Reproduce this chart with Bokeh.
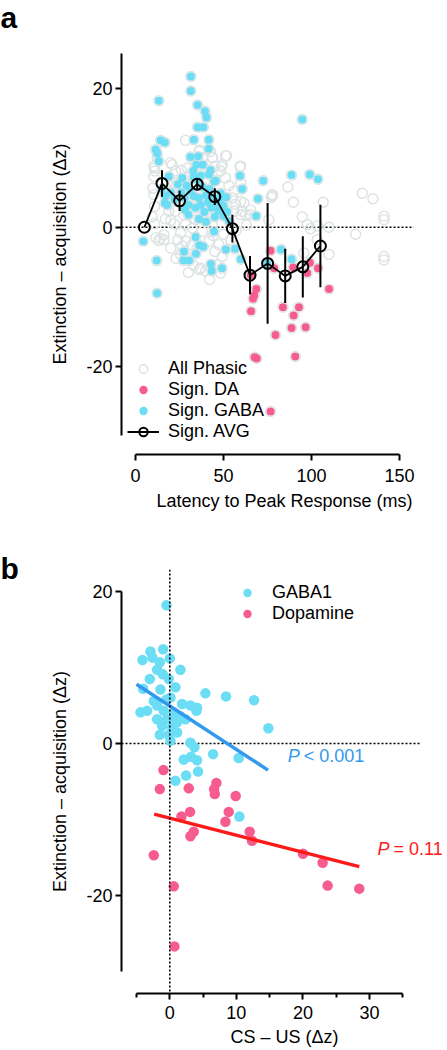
from bokeh.plotting import figure
from bokeh.layouts import column, row
from bokeh.models import Span, Label, Legend, LegendItem, FixedTicker, Range1d
from bokeh.embed import file_html
from bokeh.resources import INLINE

FONT = "Liberation Sans"
CYAN = "#6BDDF5"
PINK = "#F75C8F"
GREY = "#DCE2E2"
BLUE = "#3399EE"
RED = "#FF1A1A"

# ---------------- Panel a data ----------------
# Significant GABA neurons: latency (ms), extinction - acquisition (dz)
gaba_a_x = [31.4, 31.4, 13.2, 35.2, 39.4, 40.3, 35.2, 38.5, 14.2, 16.6, 33.1, 41.6, 41.5, 11.4, 12.3, 13.2,
            31.2, 35.6, 34.5, 38.2, 42.6, 41.6, 18.9, 26.5, 32.8, 45.5, 59.3, 60.6, 72.5, 88.6, 98.9, 103.6,
            94.7, 69.5, 68.5, 4.4, 12.2, 12.0, 27.5, 27.1, 30.5, 34.3, 36.2, 38.5, 42.8, 43.2, 49.1, 44.6,
            51.3, 56.5, 59.8, 82.6, 88.6, 74.8, 34.1, 16.6,
            15, 17, 18, 20, 22, 24, 26, 28, 29, 30, 31, 33, 34, 35, 36, 37, 38, 39, 40, 41, 42, 43, 44,
            46, 47, 48, 50, 52, 36, 40, 30, 45, 33, 37, 28, 53, 44.7, 48.3, 51.5, 49.9]
gaba_a_y = [21.7, 19.6, 18.2, 17.6, 16.7, 15.8, 14.4, 14.4, 12.5, 12.2, 12.6, 12.6, 11.3, 11.2, 10.6, 9.5,
            10.1, 10.2, 9.0, 9.0, 8.2, 7.6, 7.3, 7.1, 8.1, 6.7, 7.4, 5.5, 6.7, 7.5, 7.6, 6.9,
            15.5, 4.1, 1.6, -2.0, -9.5, -4.8, -3.5, -4.8, -4.8, -3.8, -2.6, -2.8, -5.3, -6.3, -5.9, -0.6,
            -3.2, -3.1, -4.6, -3.2, -4.6, -5.1, -1.4, 3.5,
            5.5, 4.5, 3.2, 5.0, 4.0, 6.2, 5.0, 4.2, 6.0, 3.2, 5.2, 4.5, 2.8, 6.8, 4.2, 3.2, 5.8, 2.2, 4.6,
            3.6, 5.5, 2.8, 4.2, 3.5, 2.4, 4.1, 3.1, 2.2, 1.2, 0.8, 1.8, 1.5, 7.2, 7.4, 2.5, 0.9, 6.6, 4.9,
            4.3, 1.6]

# Significant DA neurons
da_a_x = [65.5, 76.7, 78.7, 89.5, 99.0, 97.5, 103.6, 109.9, 68.6, 67.4, 66.7, 65.6, 83.7, 92.8, 89.8,
          88.6, 96.6, 79.5, 67.6, 68.8, 90.7, 76.7]
da_a_y = [-6.9, -3.4, -5.9, -5.8, -5.1, -6.6, -5.9, -8.9, -8.9, -9.8, -10.3, -12.1, -11.5, -11.5, -12.7,
          -14.5, -14.4, -15.5, -18.7, -18.9, -18.6, -26.5]

# Other phasic neurons (non-significant)
other_a_x = [86.5, 77.7, 89.6, 106.6, 128.8, 134.8, 94.7, 75.7, 97.5, 99.4, 103.3, 109.8, 125.0, 141.1, 141.1,
             141.1, 141.1, 95.6, 109.8, 103.2, 51.7, 48.7, 59.3, 61.5, 62.5, 65.0, 55.9, 55.9, 28.4, 36.4,
             43.8, 20.8, 10.8, 16.1, 14.2, 36.9, 48.3, 25.6, 13.2, 16.1, 56.8, 59.7, 28.4, 26.5, 32.2, 29.4,
             36.0, 39.8, 46.4, 49.2, 47.3, 41.7, 37.9, 32.2, 28.4, 25.6, 34.1, 39.8, 43.6, 27.4, 22.7, 18.9,
             47.3, 51.1, 54.9, 59.7, 65.3, 60.6, 77.1, 51.1, 43.6, 49.3, 59.7, 19.9, 12.3, 10.4, 11.0, 22.7,
             36.0, 37.9, 42.6, 29.4, 48.3, 51.1, 59.7, 77.7, 21.8, 10.4, 10.4, 9.8, 10.8, 10.8, 11.5, 9.5,
             20, 23, 30, 33, 42, 45, 22, 20, 17, 24, 35, 44, 50, 54, 57, 63, 31, 26, 45, 53, 18]
other_a_y = [5.8, 4.5, 3.6, 3.6, 4.9, 4.1, 1.5, 1.1, 0.4, -0.2, 0.2, 0.0, -1.0, 1.6, 1.1,
             -4.2, -4.7, -3.7, -3.9, -1.8, 10.3, 8.7, 8.7, 3.5, 1.8, 1.8, 2.3, 5.2, 12.5, 11.1,
             10.0, 9.0, 8.5, -1.1, -1.6, -5.9, -6.6, -3.9, -1.9, -1.8, 3.3, 1.8, -2.0, -2.7, -2.5, -4.4,
             -6.1, -6.3, -5.4, -4.2, -2.5, -2.0, -0.6, -0.1, 0.4, -0.8, 1.1, 0.9, 0.4, 1.8, 2.3, 2.3,
             2.3, 1.8, 4.2, 3.7, 2.5, 2.3, 4.3, 10.3, 10.0, 9.0, 8.8, 9.3, 10.0, 8.8, 8.1, 8.1,
             10.9, 10.0, 10.9, 8.5, 8.1, 7.1, 6.4, 4.7, 6.4, 7.3, 4.7, 5.6, 3.0, 0.5, -1.5, 1.5,
             -3.0, -4.5, -6.5, -5.5, -7.5, -3.5, 0.5, 1.0, 1.2, -1.8, -3.0, -1.2, -1.0, -1.8, -0.5, 0.3,
             7.5, 8.2, 8.8, 6.0, 6.5]

# Binned average of significant neurons (mean +/- s.e.m.)
avg_x = [5, 15, 25, 35, 45, 55, 65, 75, 85, 95, 105]
avg_y = [0.0, 6.3, 3.8, 6.2, 4.4, -0.2, -6.9, -5.2, -7.0, -5.7, -2.7]
avg_err = [0.0, 1.9, 1.45, 0.9, 1.2, 2.0, 2.75, 8.7, 3.9, 4.4, 5.95]

# ---------------- Panel b data ----------------
gaba_b_x = [-0.5, -1.0, -2.9, -4.1, 0.0, -1.5, -2.6, 1.6, -1.9, -1.05, -3.0, -0.15, 0.85, -1.4, -4.0, 5.35,
            8.45, 12.65, 0.1, -2.4, 1.85, 3.1, 4.1, 4.0, -4.4, -3.4, -1.9, -0.9, 0.6, -0.4, -1.9, 2.35,
            1.1, -1.15, 0.35, 14.8, 1.1, -1.5, -0.15, 0.1, 3.1, 3.7, 6.5, 10.35, 2.1, 3.2, 4.1, 2.45,
            4.25, 0.85, 10.45, -0.5, 0.6, 1.6]
gaba_b_y = [18.2, 12.4, 12.1, 11.0, 11.2, 10.7, 11.3, 9.7, 9.7, 9.1, 8.5, 8.5, 7.4, 7.1, 7.2, 6.6,
            6.2, 5.7, 6.05, 5.6, 5.2, 5.0, 4.7, 4.3, 4.1, 4.3, 5.0, 4.3, 4.1, 3.2, 3.2, 3.2,
            2.8, 2.3, 2.1, 2.0, 1.45, 1.15, 1.15, 0.35, 0.1, -0.5, -1.4, -1.9, -2.1, -1.75, -2.2, -4.2,
            -3.7, -4.9, -9.6, 5.8, 3.6, 3.6]

da_b_x = [-0.95, -1.5, 2.85, 7.0, 6.65, 6.75, 9.9, 3.05, 1.75, 8.85, 8.35, 3.6, 3.1, 12.0, 12.35,
          20.0, 22.95, -2.4, 0.6, 23.7, 28.45, 0.7]
da_b_y = [-3.5, -6.0, -5.9, -5.2, -6.0, -6.65, -6.9, -9.0, -9.6, -9.0, -10.3, -11.6, -12.2, -11.6, -12.8,
          -14.5, -15.7, -14.7, -18.8, -18.7, -19.1, -26.7]

# Linear fits (end points)
fit_gaba_x = [-5.0, 14.75]
fit_gaba_y = [7.8, -3.5]
fit_da_x = [-2.35, 28.45]
fit_da_y = [-9.3, -16.2]

p_gaba_text = ["P", "< 0.001"]
p_da_text = ["P", "= 0.11"]

# layout constants
STRIP_W = 24
XR_A = (-8, 177.2)
ZERO_LINE_END_A = 158
XR_B = (-7.25, 41.7)
ZERO_LINE_END_B = 37.5


def style_axis(ax, bounds, ticks, minor=None, label_standoff=4, title_standoff=6):
    ax.bounds = bounds
    ax.ticker = FixedTicker(ticks=ticks, minor_ticks=minor or [])
    ax.axis_line_width = 2
    ax.axis_line_color = "black"
    ax.major_tick_line_width = 2
    ax.major_tick_out = 6
    ax.major_tick_in = 0
    ax.minor_tick_line_width = 2
    ax.minor_tick_out = 4
    ax.minor_tick_in = 0
    ax.major_label_text_font = FONT
    ax.major_label_text_font_size = "18px"
    ax.major_label_text_color = "black"
    ax.major_label_standoff = label_standoff
    ax.axis_label_text_font = FONT
    ax.axis_label_text_font_size = "18px"
    ax.axis_label_text_font_style = "normal"
    ax.axis_label_text_color = "black"
    ax.axis_label_standoff = title_standoff
    ax.major_label_overrides = {t: str(t) for t in ticks}


def base_fig(h, xr, yr, top, bottom):
    p = figure(width=447 - STRIP_W, height=h, x_range=Range1d(*xr), y_range=Range1d(*yr),
               output_backend="svg", toolbar_location=None,
               min_border_left=121 - STRIP_W, min_border_right=0,
               min_border_top=top, min_border_bottom=bottom)
    p.grid.visible = False
    p.outline_line_color = None
    p.background_fill_color = "white"
    p.border_fill_color = "white"
    return p


# ---------------- Panel a ----------------
pa = base_fig(520, XR_A, (-32.7, 25), 53, 66)
pa.line([XR_A[0], ZERO_LINE_END_A], [0, 0], line_dash="2 2", line_width=1.6, line_color="black")

all_x = other_a_x + da_a_x + gaba_a_x
all_y = other_a_y + da_a_y + gaba_a_y
r_all = pa.scatter(all_x, all_y, size=10, marker="circle", fill_alpha=0, line_color=GREY, line_width=1.4)
r_da = pa.scatter(da_a_x, da_a_y, size=8, marker="circle", fill_color=PINK, line_color=None)
r_gaba = pa.scatter(gaba_a_x, gaba_a_y, size=8, marker="circle", fill_color=CYAN, line_color=None)

lo = [m - e for m, e in zip(avg_y, avg_err)]
hi = [m + e for m, e in zip(avg_y, avg_err)]
pa.segment(x0=avg_x, y0=lo, x1=avg_x, y1=hi, line_color="black", line_width=2)
r_line = pa.line(avg_x, avg_y, line_color="black", line_width=1.8)
r_avg = pa.scatter(avg_x, avg_y, size=11, marker="circle", fill_alpha=0, line_color="black", line_width=2)

style_axis(pa.xaxis[0], (0, 150), [0, 50, 100, 150], label_standoff=8, title_standoff=6)
style_axis(pa.yaxis[0], (-30, 25), [-20, 0, 20], label_standoff=3, title_standoff=13)
pa.xaxis.axis_label = "Latency to Peak Response (ms)"
pa.yaxis.axis_label = "Extinction – acquisition (Δz)"

leg_a = Legend(items=[LegendItem(label="All Phasic", renderers=[r_all]),
                      LegendItem(label="Sign. DA", renderers=[r_da]),
                      LegendItem(label="Sign. GABA", renderers=[r_gaba]),
                      LegendItem(label="Sign. AVG", renderers=[r_line, r_avg])],
               location=(6, 12))

# ---------------- Panel b ----------------
pb = base_fig(530, XR_B, (-32.9, 22.9), 49, 57)
pb.line([XR_B[0], ZERO_LINE_END_B], [0, 0], line_dash="2 2", line_width=1.6, line_color="black")
pb.add_layout(Span(location=0, dimension="height", line_dash="2 2", line_width=1.6, line_color="black"))

r_g = pb.scatter(gaba_b_x, gaba_b_y, size=10.5, marker="circle", fill_color=CYAN, line_color=None)
r_d = pb.scatter(da_b_x, da_b_y, size=10.5, marker="circle", fill_color=PINK, line_color=None)
pb.line(fit_gaba_x, fit_gaba_y, line_color=BLUE, line_width=3.5)
pb.line(fit_da_x, fit_da_y, line_color=RED, line_width=3.5)

style_axis(pb.xaxis[0], (-5, 35), [0, 10, 20, 30], minor=[-5, 5, 15, 25, 35], label_standoff=6, title_standoff=5)
style_axis(pb.yaxis[0], (-30, 20), [-20, 0, 20], label_standoff=3, title_standoff=13)
pb.xaxis.axis_label = "CS – US (Δz)"
pb.yaxis.axis_label = "Extinction – acquisition (Δz)"

leg_b = Legend(items=[LegendItem(label="GABA1", renderers=[r_g]),
                      LegendItem(label="Dopamine", renderers=[r_d])],
               location=(110, 369))

for lg in [leg_a, leg_b]:
    lg.background_fill_alpha = 0
    lg.border_line_alpha = 0
    lg.padding = 0
    lg.margin = 0
    lg.spacing = 0
    lg.glyph_width = 32
    lg.glyph_height = 21
    lg.label_height = 21
    lg.label_standoff = 9
    lg.label_text_font = FONT
    lg.label_text_font_size = "18px"
    lg.label_text_color = "black"
pa.add_layout(leg_a)
pb.add_layout(leg_b)

for txt, xx, yy, col in [(p_gaba_text, 17.7, -1.6, BLUE), (p_da_text, 31.2, -13.9, RED)]:
    pb.add_layout(Label(x=xx, y=yy, text=txt[0], text_font=FONT, text_font_size="18px",
                        text_font_style="italic", text_color=col, text_baseline="middle"))
    pb.add_layout(Label(x=xx, y=yy, x_offset=16, text=txt[1], text_font=FONT, text_font_size="18px",
                        text_color=col, text_baseline="middle"))

# ---------------- Panel letters strip ----------------
strip = figure(width=STRIP_W, height=1050, x_range=Range1d(0, STRIP_W), y_range=Range1d(1050, 0),
               output_backend="svg", toolbar_location=None, min_border=0,
               x_axis_type=None, y_axis_type=None)
strip.grid.visible = False
strip.outline_line_color = None
for letter, ypos in [("a", 17), ("b", 568)]:
    strip.add_layout(Label(x=0, y=ypos, text=letter, text_font=FONT, text_font_size="30px",
                           text_font_style="bold", text_color="black", text_baseline="alphabetic"))

layout = row(strip, column(pa, pb, spacing=0), spacing=0)
open("out.html", "w").write(file_html(layout, INLINE))
